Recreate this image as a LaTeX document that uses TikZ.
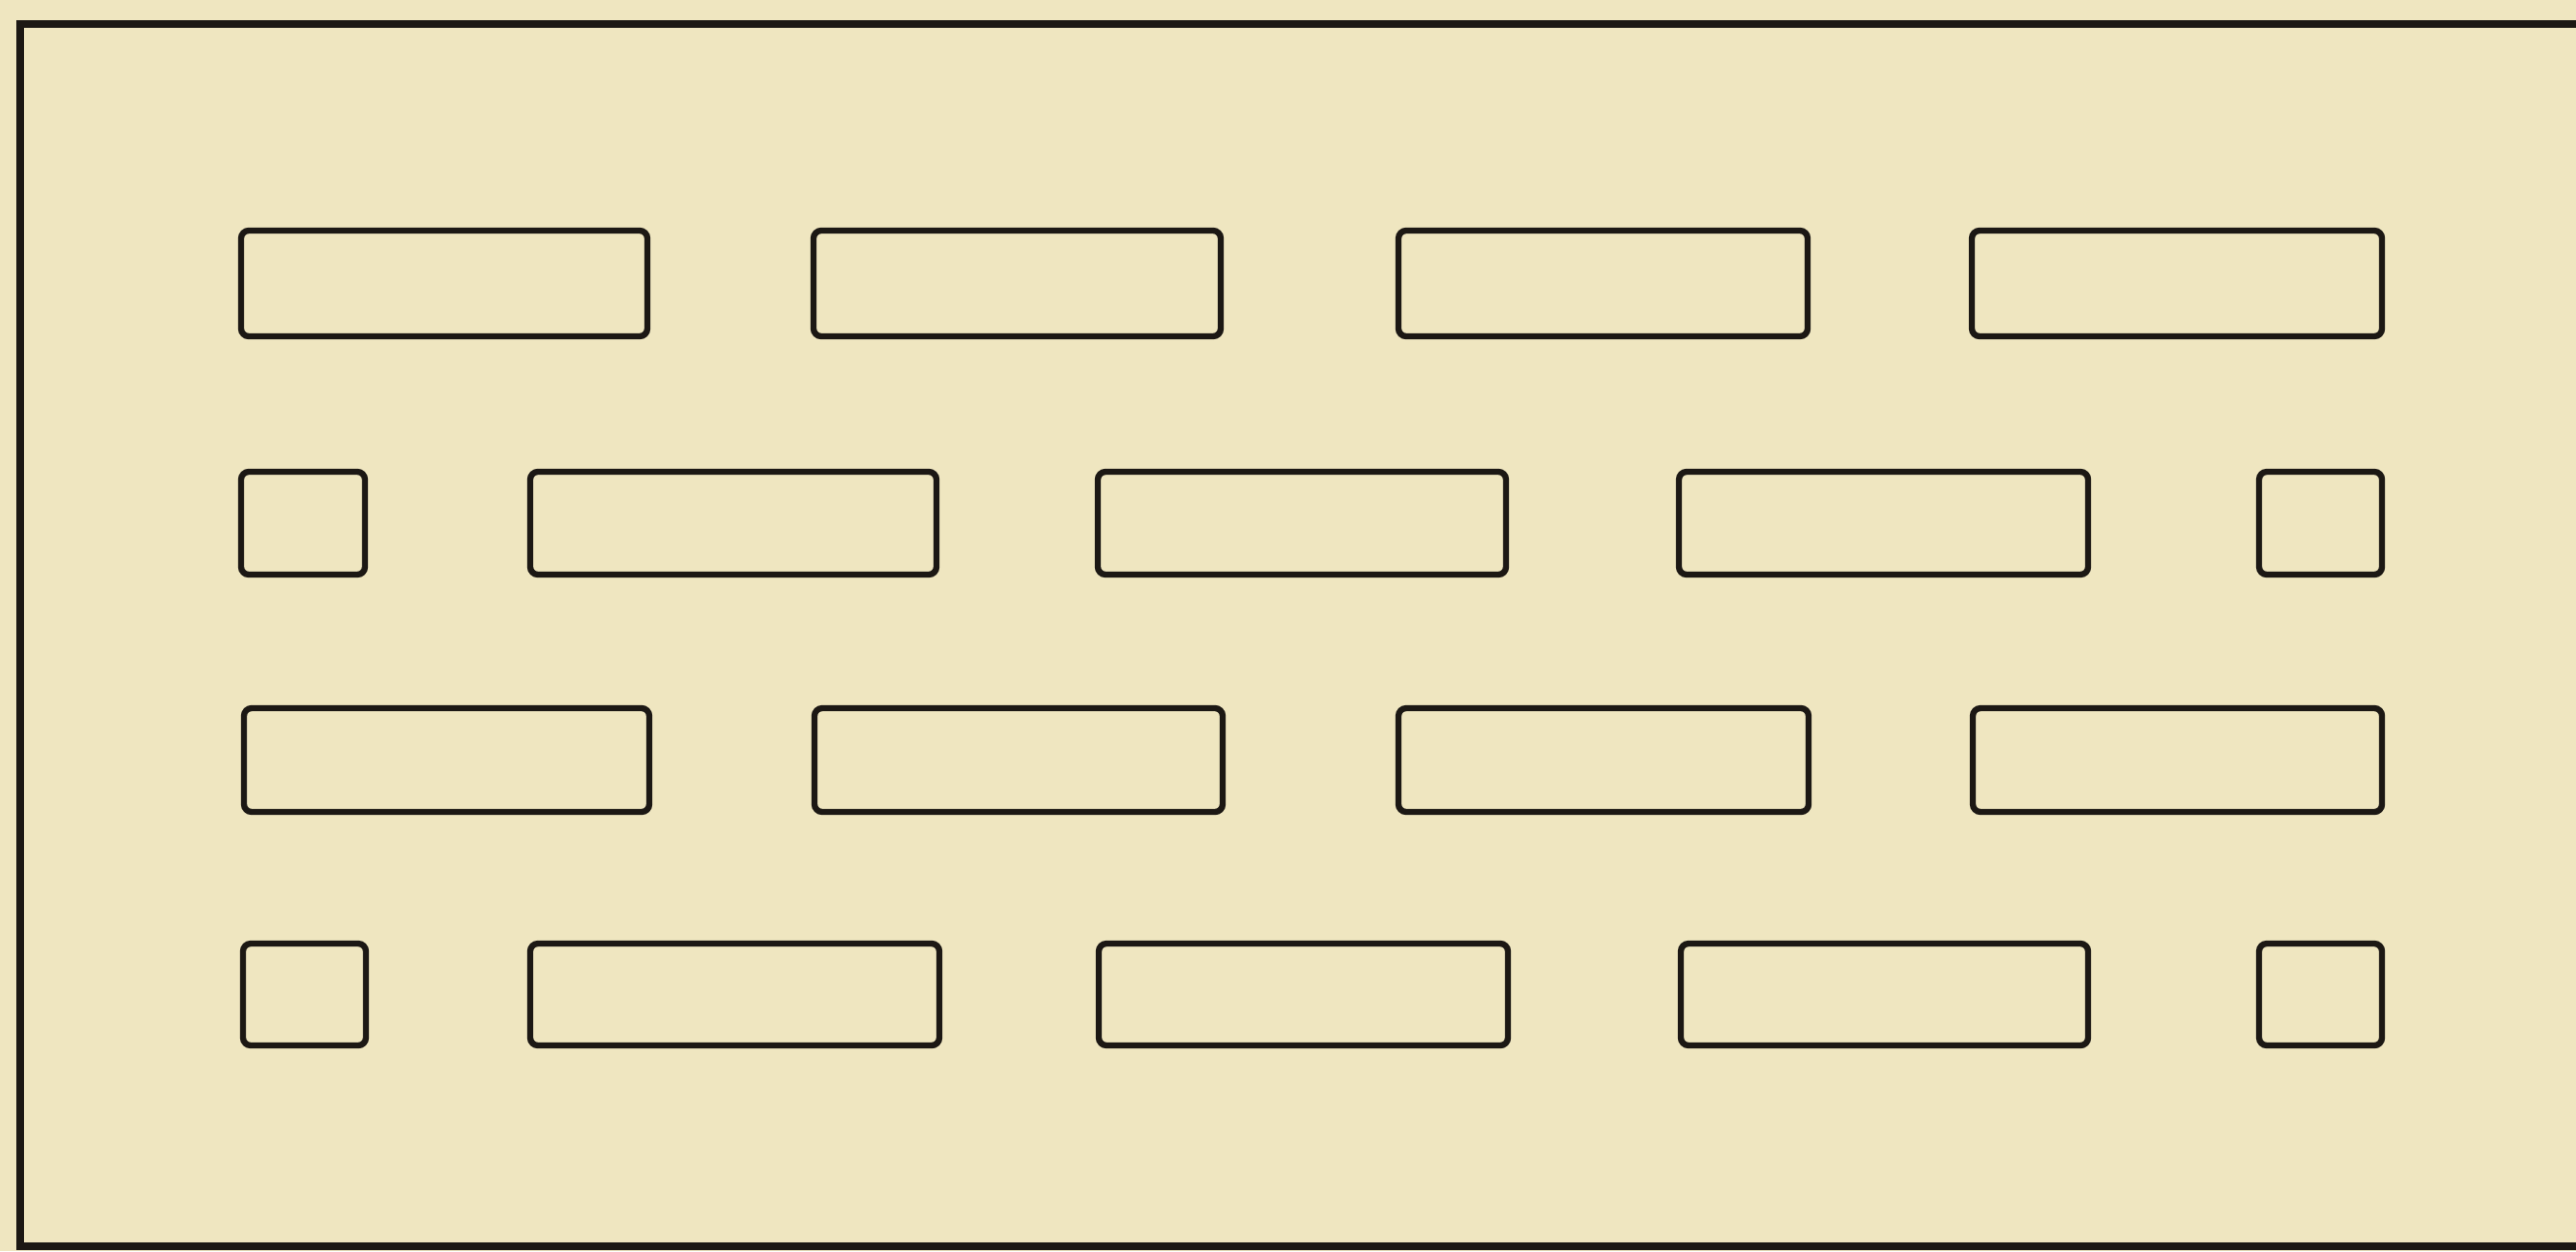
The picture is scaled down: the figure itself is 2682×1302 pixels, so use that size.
\documentclass[tikz,border=0pt]{standalone}
\definecolor{paper}{RGB}{239,230,192}
\definecolor{ink}{RGB}{28,24,20}
\tikzset{
  slot/.style={draw=ink, line width=1.8pt, rounded corners=0.08cm},
  frameline/.style={draw=ink, line width=2.2pt},
}
\begin{document}
\begin{tikzpicture}[x=0.01cm, y=-0.01cm]
\fill[paper] (0,0) rectangle (2682,1302);
\useasboundingbox (0,0) rectangle (2682,1302);
% outer frame (open on the right)
\draw[frameline] (2690,25) -- (21,25) -- (21,1297) -- (2690,1297);
% row 1
\foreach \a/\b in {251/674, 847/1271, 1456/1882, 2053/2480}
  \draw[slot] (\a,240) rectangle (\b,350);
% row 2
\foreach \a/\b in {251/380, 552/975, 1143/1568, 1748/2174, 2352/2480}
  \draw[slot] (\a,491) rectangle (\b,598);
% row 3
\foreach \a/\b in {254/676, 848/1273, 1456/1883, 2054/2480}
  \draw[slot] (\a,737) rectangle (\b,845);
% row 4
\foreach \a/\b in {253/381, 552/978, 1144/1570, 1750/2174, 2352/2480}
  \draw[slot] (\a,982) rectangle (\b,1088);
\end{tikzpicture}
\end{document}
